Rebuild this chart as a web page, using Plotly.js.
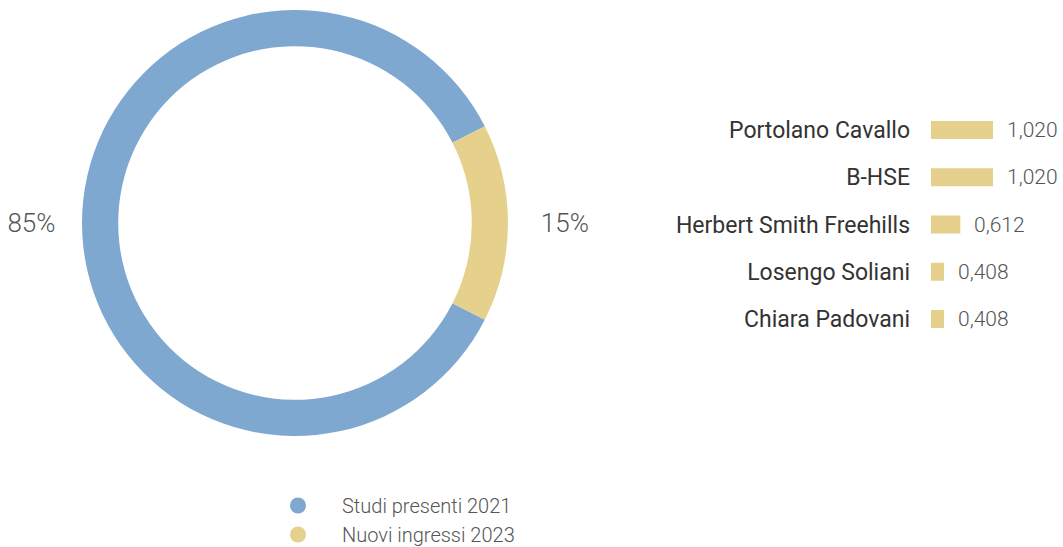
<!DOCTYPE html>
<html>
<head>
<meta charset="utf-8">
<script src="https://cdn.plot.ly/plotly-3.0.1.min.js"></script>
<style>html,body{margin:0;padding:0;background:#fff;}#chart{width:1063px;height:547px;}</style>
</head>
<body>
<div id="chart"></div>
<script>
// Donut data
const pieLabels = ["Studi presenti 2021", "Nuovi ingressi 2023"];
const pieValues = [85, 15];
const pieColors = ["#7ea8d0", "#e5d08c"];

// Bar data
const barCategories = ["Portolano Cavallo", "B-HSE", "Herbert Smith Freehills", "Losengo Soliani", "Chiara Padovani"];
const barValues = [1.020, 1.020, 0.612, 0.408, 0.408];
const barColor = "#e5d08c";

const W = 1063, H = 547;
const fmt = v => v.toFixed(3).replace('.', ',');
const NB = '\u00A0';

const data = [
  {
    type: 'pie',
    labels: pieLabels,
    values: pieValues,
    sort: false,
    direction: 'clockwise',
    rotation: 117,
    hole: 0.83,
    marker: {colors: pieColors, line: {width: 0}},
    textinfo: 'percent',
    texttemplate: ['%{percent:.0%}' + NB.repeat(3), NB.repeat(4) + '%{percent:.0%}'],
    textposition: 'outside',
    textfont: {family: 'Roboto', size: 26, color: '#555', weight: 300},
    domain: {x: [82 / W, 508 / W], y: [111 / H, 537 / H]},
    showlegend: false,
    hoverinfo: 'label+percent'
  },
  {
    type: 'bar',
    orientation: 'h',
    x: barValues,
    y: barCategories,
    marker: {color: barColor},
    xaxis: 'x', yaxis: 'y',
    showlegend: false,
    hoverinfo: 'y+x'
  }
];

pieLabels.forEach((lab, i) => {
  data.push({
    type: 'scatter', mode: 'markers',
    x: [null], y: [null],
    name: lab,
    marker: {color: pieColors[i], size: 17, symbol: 'circle'},
    xaxis: 'x', yaxis: 'y',
    showlegend: true
  });
});

const annotations = barCategories.map((c, i) => ({
  x: barValues[i], y: c, xref: 'x', yref: 'y',
  text: fmt(barValues[i]), showarrow: false,
  xanchor: 'left', yanchor: 'middle', xshift: 12,
  font: {family: 'Roboto', size: 21, color: '#555', weight: 300}
}));

const layout = {
  width: W, height: H,
  margin: {l: 0, r: 0, t: 0, b: 0, autoexpand: false},
  paper_bgcolor: '#fff', plot_bgcolor: '#fff',
  font: {family: 'Roboto', color: '#333'},
  separators: ',.',
  bargap: 0.619,
  xaxis: {
    domain: [931 / W, 1050 / W],
    range: [0.2457, 0.2457 + 119 / 80.07],
    visible: false, fixedrange: true
  },
  yaxis: {
    domain: [204.4 / H, 440.6 / H],
    type: 'category',
    autorange: false,
    range: [4.5, -0.5],
    showgrid: false, zeroline: false, showline: false,
    ticks: '',
    ticklabelstandoff: 20,
    tickfont: {family: 'Roboto', size: 23, color: '#333'},
    fixedrange: true
  },
  legend: {
    x: 254 / W, xanchor: 'left',
    y: 61 / H, yanchor: 'top',
    font: {family: 'Roboto', size: 20, color: '#555', weight: 300},
    itemwidth: 78,
    tracegroupgap: 0,
    bgcolor: 'rgba(0,0,0,0)'
  },
  annotations: annotations
};

Plotly.newPlot('chart', data, layout, {displayModeBar: false, staticPlot: true});
</script>
</body>
</html>
